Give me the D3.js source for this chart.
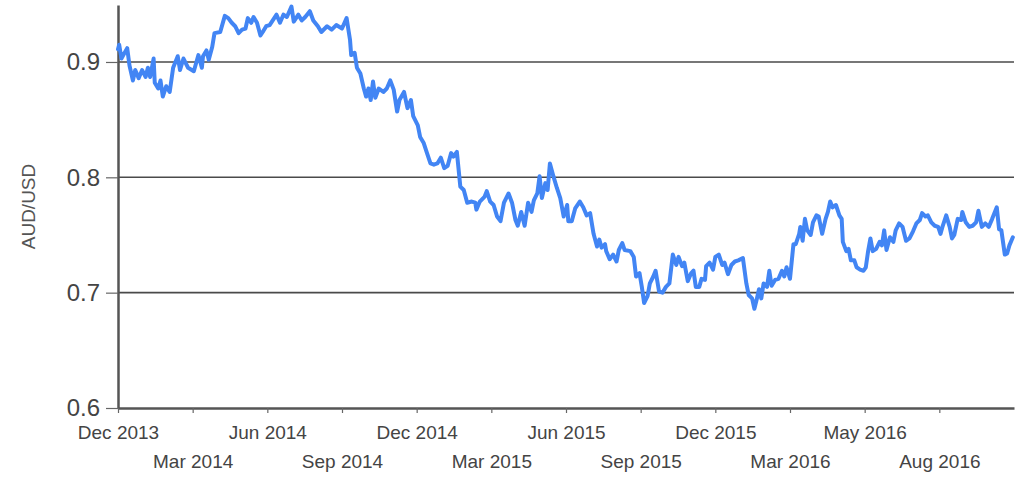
<!DOCTYPE html>
<html>
<head>
<meta charset="utf-8">
<script src="https://cdn.jsdelivr.net/npm/d3@7"></script>
<style>
  html, body { margin: 0; padding: 0; background: #fff; }
  svg { display: block; font-family: "Liberation Sans", Arial, sans-serif; }
</style>
</head>
<body>
<svg id="chart" width="1025" height="477"></svg>
<script>
// trading-day index since start of series
const days = [0,1,3,8,10,13,15,18,21,24,26,28,31,32,35,37,39,42,45,48,52,54,57,61,66,70,73,74,77,79,82,84,89,93,96,99,102,105,108,111,113,116,118,121,124,126,129,132,138,141,144,147,151,153,157,160,163,167,170,174,177,182,186,190,195,199,202,203,206,208,211,214,216,218,220,222,224,227,231,234,237,240,243,245,249,252,255,257,261,263,266,269,272,275,278,281,284,287,290,292,295,298,301,304,308,311,312,315,319,321,324,327,330,333,336,340,343,346,348,351,354,357,360,362,365,367,369,372,374,376,379,382,385,388,391,392,395,398,402,405,408,411,414,417,419,421,424,425,428,431,434,436,439,441,446,449,451,454,456,458,461,463,466,468,471,474,477,480,483,486,488,491,493,496,499,501,503,506,508,511,512,515,518,520,523,526,528,531,534,537,540,544,547,549,552,554,556,558,560,562,565,567,569,572,575,578,580,582,585,588,590,593,594,596,598,600,603,605,608,610,613,616,618,620,622,625,628,630,631,634,636,638,641,643,646,649,651,653,655,657,660,663,665,667,669,672,675,677,680,683,686,689,692,695,698,700,703,705,708,711,714,716,718,721,724,726,728,731,734,735,738,741,744,747,749,752,755,758,761,765,767,769,772,774,776,779];
// AUD/USD exchange rate
const rates = [0.911,0.915,0.903,0.912,0.897,0.884,0.893,0.886,0.893,0.887,0.895,0.887,0.903,0.882,0.877,0.884,0.870,0.879,0.874,0.895,0.905,0.893,0.903,0.895,0.892,0.906,0.895,0.905,0.910,0.902,0.913,0.925,0.926,0.940,0.938,0.934,0.931,0.925,0.928,0.929,0.938,0.934,0.939,0.934,0.923,0.926,0.931,0.932,0.941,0.934,0.941,0.939,0.948,0.935,0.941,0.936,0.939,0.944,0.936,0.931,0.926,0.931,0.928,0.932,0.929,0.938,0.919,0.906,0.908,0.895,0.890,0.877,0.870,0.877,0.867,0.883,0.869,0.877,0.874,0.877,0.884,0.876,0.857,0.867,0.874,0.860,0.867,0.853,0.845,0.835,0.830,0.821,0.812,0.811,0.812,0.817,0.808,0.810,0.821,0.818,0.822,0.792,0.789,0.778,0.779,0.778,0.772,0.779,0.783,0.788,0.779,0.776,0.766,0.762,0.778,0.786,0.778,0.763,0.758,0.770,0.758,0.778,0.770,0.780,0.786,0.801,0.782,0.795,0.789,0.812,0.801,0.791,0.782,0.766,0.776,0.762,0.762,0.773,0.779,0.774,0.767,0.769,0.751,0.740,0.746,0.739,0.742,0.736,0.729,0.733,0.727,0.737,0.743,0.737,0.736,0.731,0.714,0.717,0.705,0.691,0.697,0.708,0.714,0.719,0.701,0.700,0.705,0.708,0.733,0.724,0.731,0.723,0.726,0.710,0.717,0.719,0.705,0.705,0.712,0.711,0.723,0.726,0.720,0.731,0.733,0.724,0.726,0.716,0.724,0.727,0.728,0.730,0.708,0.698,0.695,0.686,0.694,0.703,0.695,0.708,0.705,0.719,0.706,0.711,0.712,0.719,0.714,0.722,0.712,0.742,0.742,0.751,0.757,0.745,0.764,0.754,0.750,0.761,0.767,0.766,0.751,0.764,0.770,0.779,0.774,0.776,0.767,0.764,0.744,0.736,0.738,0.728,0.728,0.722,0.720,0.719,0.722,0.736,0.747,0.736,0.738,0.744,0.741,0.754,0.737,0.748,0.744,0.754,0.760,0.757,0.745,0.747,0.753,0.760,0.763,0.769,0.766,0.767,0.761,0.758,0.757,0.751,0.758,0.767,0.757,0.747,0.750,0.764,0.763,0.770,0.761,0.757,0.758,0.761,0.771,0.757,0.760,0.757,0.764,0.774,0.755,0.754,0.733,0.734,0.741,0.748];

const tickDays = [0,65,130,195,260,325,390,455,520,585,650,715];
const tickLabels = ['Dec 2013','Mar 2014','Jun 2014','Sep 2014','Dec 2014','Mar 2015','Jun 2015','Sep 2015','Dec 2015','Mar 2016','May 2016','Aug 2016'];
const yTicks = [0.6, 0.7, 0.8, 0.9];
const gridValues = [0.7, 0.8, 0.9];
const yTitle = 'AUD/USD';

const svg = d3.select('#chart');
const plotLeft = 118, plotRight = 1014, plotTop = 5, plotBottom = 408;

const x = d3.scaleLinear().domain([0, 780]).range([plotLeft, plotRight]);
const y = d3.scaleLinear().domain([0.6, 0.9494]).range([plotBottom, plotTop]);

// gridlines
svg.append('g').selectAll('line').data(gridValues).join('line')
  .attr('x1', plotLeft).attr('x2', plotRight)
  .attr('y1', d => y(d)).attr('y2', d => y(d))
  .attr('stroke', '#4a4a4a').attr('stroke-width', 1.6);

// y axis
const yAxis = svg.append('g').attr('transform', `translate(${plotLeft},0)`)
  .call(d3.axisLeft(y).tickValues(yTicks).tickFormat(d3.format('.1f')).tickSize(12).tickSizeOuter(0).tickPadding(6));
yAxis.select('.domain').attr('stroke', '#555').attr('stroke-width', 2.5);
yAxis.selectAll('.tick line').attr('stroke', '#666').attr('stroke-width', 1.2);
yAxis.selectAll('.tick text').attr('font-size', 24).attr('fill', '#444')
  .attr('font-family', '"Liberation Sans", Arial, sans-serif');

// x axis
const xAxis = svg.append('g').attr('transform', `translate(0,${plotBottom})`)
  .call(d3.axisBottom(x).tickValues(tickDays).tickFormat((d, i) => tickLabels[i]).tickSize(5).tickSizeOuter(0).tickPadding(6));
xAxis.select('.domain').attr('stroke', '#555').attr('stroke-width', 2.5);
xAxis.selectAll('.tick line').attr('stroke', '#666').attr('stroke-width', 1.2);
xAxis.selectAll('.tick text').attr('font-size', 19).attr('fill', '#444')
  .attr('font-family', '"Liberation Sans", Arial, sans-serif')
  .attr('dy', null)
  .attr('y', (d, i) => i % 2 === 0 ? 31 : 60);

// y title
svg.append('text')
  .attr('transform', `translate(35,${(plotTop + plotBottom) / 2}) rotate(-90)`)
  .attr('text-anchor', 'middle')
  .attr('font-size', 19).attr('fill', '#555')
  .text(yTitle);

// line
const pts = days.map((d, i) => [d, rates[i]]);
svg.append('path').datum(pts)
  .attr('fill', 'none').attr('stroke', '#4285f4').attr('stroke-width', 4)
  .attr('stroke-linejoin', 'round').attr('stroke-linecap', 'round')
  .attr('d', d3.line().x(d => x(d[0])).y(d => y(d[1])));
</script>
</body>
</html>
